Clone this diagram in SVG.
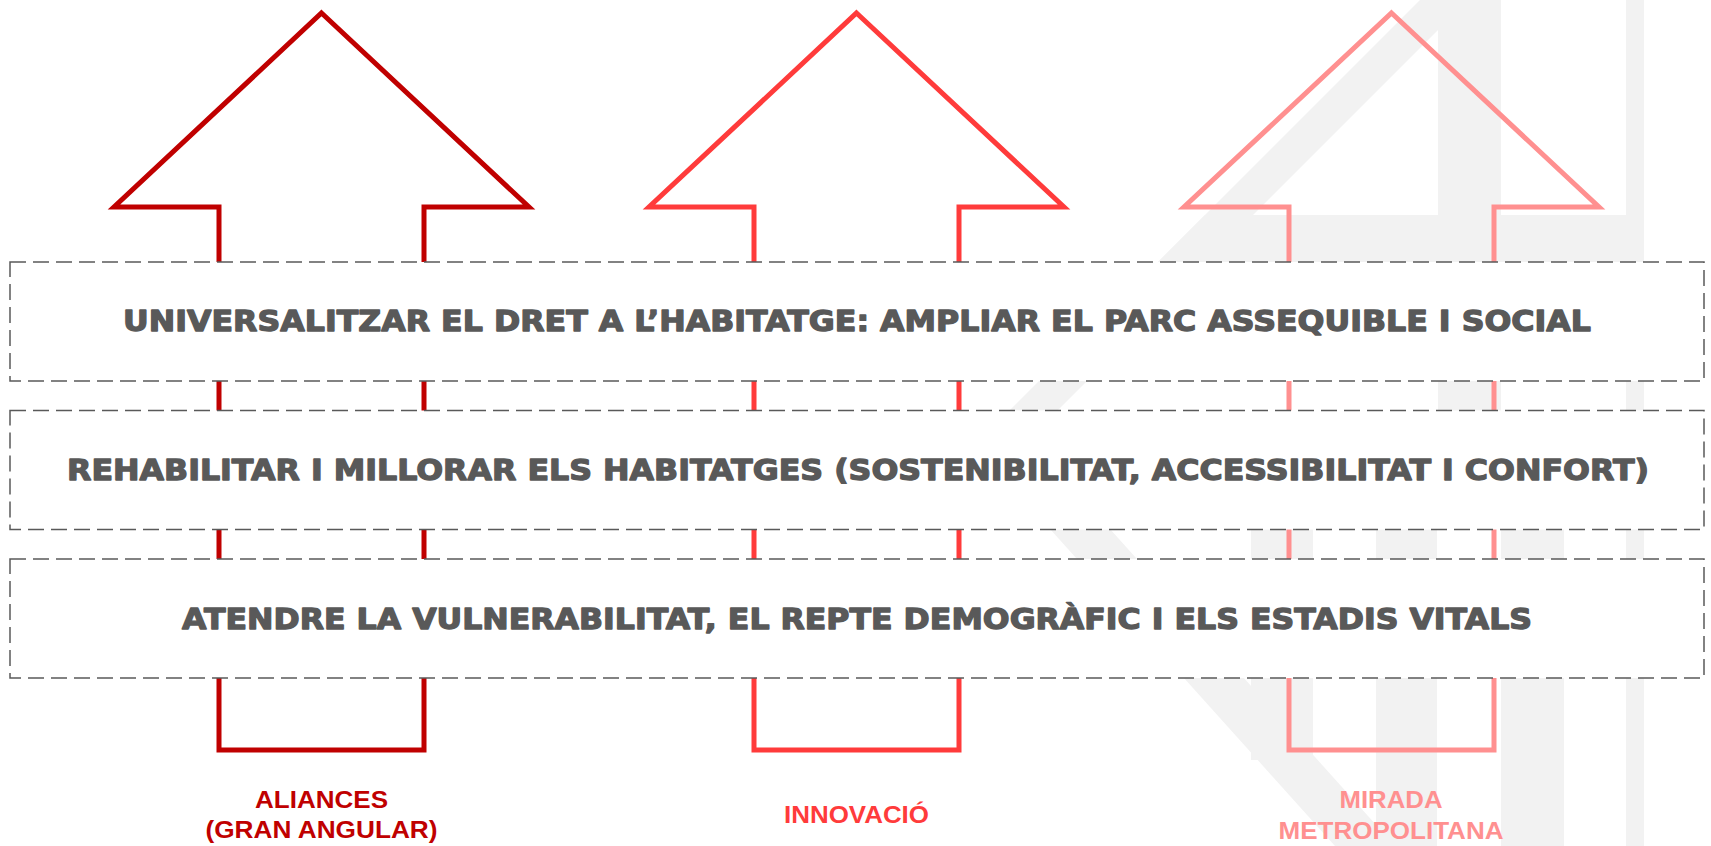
<svg xmlns="http://www.w3.org/2000/svg" width="1711" height="846" viewBox="0 0 1711 846">
  <style>
    .wm { fill: #F2F2F2; stroke: none; }
    .arrow { fill: none; stroke-width: 5; stroke-linejoin: miter; stroke-miterlimit: 10; }
    .box { fill: #FFFFFF; stroke: #595959; stroke-width: 1.5; stroke-dasharray: 16 7; }
    .boxtext { font-family: "DejaVu Sans", "Liberation Sans", sans-serif; font-weight: bold; font-size: 29px; fill: #595959; stroke: #595959; stroke-width: 1.3; stroke-linejoin: round; text-anchor: middle; }
    .label { font-family: "Liberation Sans", Arial, sans-serif; font-weight: bold; font-size: 24px; text-anchor: middle; }
  </style>
  <rect x="0" y="0" width="1711" height="846" fill="#FFFFFF"/>
  <g id="watermark">
    <polygon class="wm" points="1420,0 1468,0 998,470 950,470"/>
    <rect class="wm" x="1438" y="0" width="63" height="470"/>
    <polygon class="wm" points="1205,215 1644,215 1644,262 1158,262"/>
    <rect class="wm" x="1626" y="0" width="18" height="846"/>
    <polygon class="wm" points="952,420 1012,420 1395,846 1335,846"/>
    <rect class="wm" x="1376" y="470" width="61" height="376"/>
    <rect class="wm" x="1501" y="470" width="63" height="376"/>
    <rect class="wm" x="1251" y="470" width="62" height="290"/>
  </g>
  <g id="pillar-aliances">
    <polygon class="arrow" stroke="#C00000" points="321.5,13 529,207 424,207 424,750 219,750 219,207 114,207"/>
    <text class="label" fill="#C00000" x="321.5" y="808" textLength="133" lengthAdjust="spacingAndGlyphs">ALIANCES</text>
    <text class="label" fill="#C00000" x="321.5" y="838" textLength="232" lengthAdjust="spacingAndGlyphs">(GRAN ANGULAR)</text>
  </g>
  <g id="pillar-innovacio">
    <polygon class="arrow" stroke="#FF3B3B" points="856.5,13 1064,207 959,207 959,750 754,750 754,207 649,207"/>
    <text class="label" fill="#FF3B3B" x="856.5" y="823" textLength="145" lengthAdjust="spacingAndGlyphs">INNOVACIÓ</text>
  </g>
  <g id="pillar-mirada">
    <polygon class="arrow" stroke="#FF9090" points="1391.5,13 1599,207 1494,207 1494,750 1289,750 1289,207 1184,207"/>
    <text class="label" fill="#FF9090" x="1391" y="808" textLength="103" lengthAdjust="spacingAndGlyphs">MIRADA</text>
    <text class="label" fill="#FF9090" x="1391" y="839" textLength="225" lengthAdjust="spacingAndGlyphs">METROPOLITANA</text>
  </g>
  <g id="connectors"></g>
  <g id="box-universalitzar">
    <rect class="box" x="10" y="262" width="1694" height="119"/>
    <text class="boxtext" x="857" y="331" textLength="1468" lengthAdjust="spacingAndGlyphs">UNIVERSALITZAR EL DRET A L’HABITATGE: AMPLIAR EL PARC ASSEQUIBLE I SOCIAL</text>
  </g>
  <g id="box-rehabilitar">
    <rect class="box" x="10" y="410.5" width="1694" height="119"/>
    <text class="boxtext" x="858" y="480" textLength="1582" lengthAdjust="spacingAndGlyphs">REHABILITAR I MILLORAR ELS HABITATGES (SOSTENIBILITAT, ACCESSIBILITAT I CONFORT)</text>
  </g>
  <g id="box-atendre">
    <rect class="box" x="10" y="559" width="1694" height="119"/>
    <text class="boxtext" x="857" y="628.5" textLength="1350" lengthAdjust="spacingAndGlyphs">ATENDRE LA VULNERABILITAT, EL REPTE DEMOGRÀFIC I ELS ESTADIS VITALS</text>
  </g>
</svg>
